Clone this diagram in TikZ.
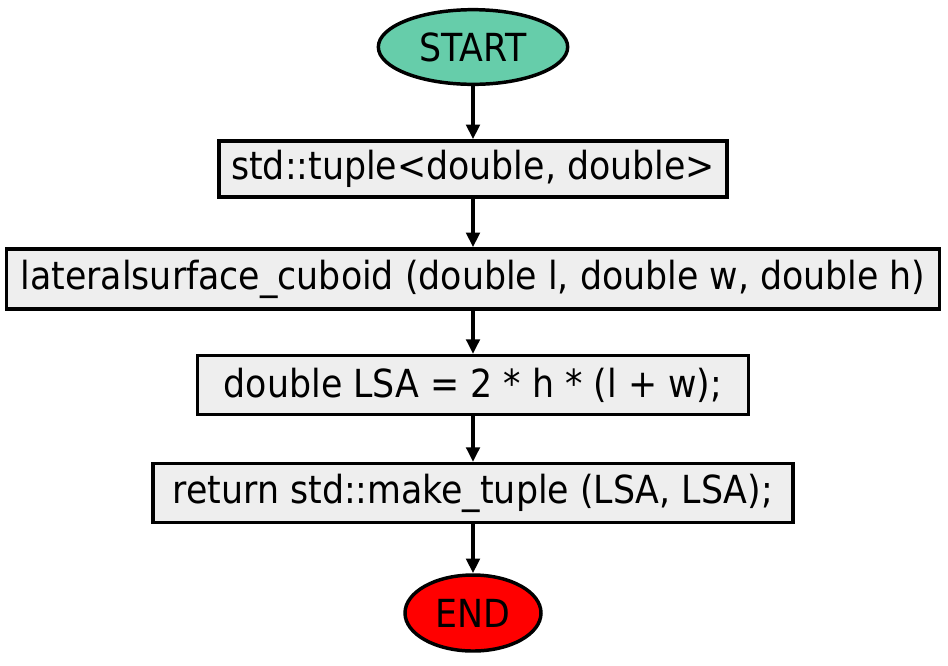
\documentclass[tikz,border=0pt]{standalone}
\usepackage{fontspec}
\setmainfont{DejaVu Sans Condensed}
\usetikzlibrary{shapes.geometric,arrows.meta}
\begin{document}
\begin{tikzpicture}[x=0.75pt,y=-0.75pt,
  every node/.style={font=\fontsize{29}{34}\selectfont, line width=2.6pt, inner sep=0pt},
  term/.style={ellipse, draw=black},
  proc/.style={rectangle, draw=black, fill=boxgray},
  conn/.style={line width=2.8pt, -{Triangle[length=11pt,width=10pt]}}]
\definecolor{boxgray}{HTML}{EEEEEE}
\definecolor{startgreen}{HTML}{66CDAA}
\useasboundingbox (0,0) rectangle (948,665);
\node[term, fill=startgreen, minimum width=142pt, minimum height=56pt] (start) at (473,47) {START};
\node[proc, minimum width=381pt, minimum height=42pt] (b1) at (473,169) {std::tuple<double, double>};
\node[proc, minimum width=700pt, minimum height=45pt] (b2) at (473,279) {lateralsurface\_cuboid (double l, double w, double h)};
\node[proc, minimum width=413pt, minimum height=44pt] (b3) at (473,385) {double LSA = 2 * h * (l + w);};
\node[proc, minimum width=480pt, minimum height=44pt] (b4) at (473,493) {return std::make\_tuple (LSA, LSA);};
\node[term, fill=red, minimum width=102pt, minimum height=57pt] (end) at (473,613) {END};
\draw[conn] (start) -- (b1);
\draw[conn] (b1) -- (b2);
\draw[conn] (b2) -- (b3);
\draw[conn] (b3) -- (b4);
\draw[conn] (b4) -- (end);
\end{tikzpicture}
\end{document}
